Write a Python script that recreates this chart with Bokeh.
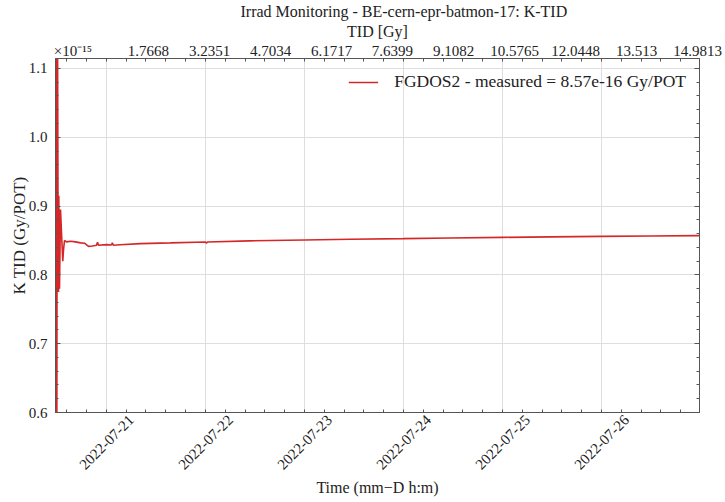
from math import pi

import numpy as np
import pandas as pd
from bokeh.plotting import figure
from bokeh.models import Range1d, LinearAxis, DatetimeAxis, FixedTicker
from bokeh.embed import file_html
from bokeh.resources import INLINE

# K-TID of the FGDOS2 dosimeter (units of 1e-15 Gy/POT)
times = [
    "2022-07-20 11:40", "2022-07-20 11:44", "2022-07-20 11:52", "2022-07-20 11:59",
    "2022-07-20 12:06", "2022-07-20 12:16", "2022-07-20 12:24", "2022-07-20 12:28",
    "2022-07-20 12:38", "2022-07-20 12:53", "2022-07-20 13:07", "2022-07-20 13:26",
    "2022-07-20 13:36", "2022-07-20 13:51", "2022-07-20 14:20", "2022-07-20 15:18",
    "2022-07-20 16:31", "2022-07-20 17:44", "2022-07-20 18:42", "2022-07-20 19:40",
    "2022-07-20 20:38", "2022-07-20 21:36", "2022-07-20 21:51", "2022-07-20 22:05",
    "2022-07-21 00:00", "2022-07-21 01:13", "2022-07-21 01:27", "2022-07-21 01:41",
    "2022-07-21 03:23", "2022-07-21 08:14", "2022-07-21 15:31", "2022-07-22 00:00",
    "2022-07-22 00:15", "2022-07-22 00:30", "2022-07-22 10:40", "2022-07-23 00:00",
    "2022-07-23 11:10", "2022-07-24 00:00", "2022-07-24 11:20", "2022-07-25 00:00",
    "2022-07-25 11:40", "2022-07-26 00:00", "2022-07-26 11:50", "2022-07-26 23:45",
]
k_tid = [
    0.645, 0.45, 1.40, 0.50,
    1.30, 0.918, 0.775, 0.915,
    0.78, 0.895, 0.862, 0.820,
    0.836, 0.850, 0.848, 0.849,
    0.848, 0.8465, 0.846, 0.8415,
    0.842, 0.843, 0.8475, 0.843,
    0.844, 0.8435, 0.8465, 0.843,
    0.8438, 0.8455, 0.8465, 0.8478,
    0.8462, 0.8478, 0.8495, 0.8508,
    0.8518, 0.8527, 0.8536, 0.8545,
    0.8552, 0.856, 0.8566, 0.857,
]
measured = 8.57e-16

day_ticks = ["2022-07-21", "2022-07-22", "2022-07-23", "2022-07-24", "2022-07-25", "2022-07-26"]
tid_ticks = [1.7668, 3.2351, 4.7034, 6.1717, 7.6399, 9.1082, 10.5765, 12.0448, 13.513, 14.9813]
tid_limits = (-0.4717, 15.0294)
y_ticks = [0.6, 0.7, 0.8, 0.9, 1.0, 1.1]
y_limits = (0.6, 1.1145)
y_scale_note = "\u00d710\u207b\u00b9\u2075"

FONT = "Liberation Serif"
TXT = "#222222"
EDGE = "#555555"
GRID = "#dedede"
RED = "#d62728"

FRAME_W = 725 - 55 - 26

t = pd.to_datetime(times)
t_ms = t.asi8 // 10**6
t0, t1 = float(t_ms[0]), float(t_ms[-1])
day_ms = [float(v) for v in pd.to_datetime(day_ticks).asi8 // 10**6]
step = 86400000 / 5
minor_ms = [d + i * step for d in [day_ms[0] - 86400000] + day_ms for i in range(0, 5)]
minor_ms = [m for m in minor_ms if t0 <= m <= t1]
y_minor = [round(v, 2) for v in np.arange(y_limits[0], y_limits[1], 0.02)]

# rotated day labels are right-aligned by bokeh; slide their anchor so each
# label sits centred under its day line
label_shift = 25 * (t1 - t0) / FRAME_W
label_ms = [d + label_shift for d in day_ms]

x_ticker = FixedTicker(ticks=day_ms, minor_ticks=minor_ms)
y_ticker = FixedTicker(ticks=y_ticks, minor_ticks=y_minor)

p = figure(
    width=725, height=502,
    x_axis_type="datetime",
    x_range=Range1d(t0, t1), y_range=Range1d(*y_limits),
    output_backend="svg", toolbar_location=None,
    min_border_left=55, min_border_right=26, min_border_top=58, min_border_bottom=90,
)
p.outline_line_color = EDGE
p.background_fill_color = "white"
p.border_fill_color = "white"

p.title.text = "Irrad Monitoring - BE-cern-epr-batmon-17: K-TID"
p.title.align = "left"
p.title.offset = 185
p.title.standoff = 0
p.title.text_font = FONT
p.title.text_font_size = "16px"
p.title.text_font_style = "normal"
p.title.text_color = TXT


def style_ticks(ax):
    ax.axis_line_color = EDGE
    ax.major_tick_line_color = EDGE
    ax.minor_tick_line_color = EDGE
    ax.major_tick_in = 5
    ax.major_tick_out = 0
    ax.minor_tick_in = 3
    ax.minor_tick_out = 0


def style_labels(ax, size="15px"):
    ax.major_label_text_font = FONT
    ax.major_label_text_font_size = size
    ax.major_label_text_color = TXT
    ax.axis_label_text_font = FONT
    ax.axis_label_text_font_size = "16px"
    ax.axis_label_text_font_style = "normal"
    ax.axis_label_text_color = TXT


# bottom: day labels, with tick marks every fifth of a day
xa = p.xaxis[0]
xa.ticker = FixedTicker(ticks=label_ms, minor_ticks=minor_ms)
style_ticks(xa)
style_labels(xa)
xa.major_tick_in = 0
xa.minor_tick_in = 3
xa.major_label_overrides = {ms: d for ms, d in zip(label_ms, day_ticks)}
xa.major_label_orientation = pi / 4
xa.major_label_standoff = 5
xa.axis_label = "Time (mm\u2212D h:m)"
xa.axis_label_standoff = 2

# left: K values
ya = p.yaxis[0]
ya.ticker = y_ticker
style_ticks(ya)
style_labels(ya)
ya.major_label_overrides = {v: f"{v:.1f}" for v in y_ticks}
ya.major_label_standoff = 8
ya.axis_label = "K TID (Gy/POT)"
ya.axis_label_text_font_size = "17px"
ya.axis_label_standoff = -3

# right: mirrored y ticks
ra = LinearAxis(ticker=y_ticker)
style_ticks(ra)
ra.major_label_overrides = {v: "" for v in y_ticks}
ra.major_label_standoff = 0
p.add_layout(ra, "right")

# top: mirrored day ticks
ta = DatetimeAxis(ticker=FixedTicker(ticks=[], minor_ticks=minor_ms))
style_ticks(ta)
ta.major_label_standoff = 0
p.add_layout(ta, "above")

# top: accumulated TID scale, with the y multiplier at its left end
p.extra_x_ranges = {"tid": Range1d(*tid_limits)}
note_pos = tid_limits[0] + 0.027 * (tid_limits[1] - tid_limits[0])
tid_ax = LinearAxis(x_range_name="tid", ticker=FixedTicker(ticks=[note_pos] + tid_ticks, minor_ticks=[]))
tid_ax.major_label_overrides = {note_pos: y_scale_note, **{v: str(v) for v in tid_ticks}}
tid_ax.axis_line_color = None
tid_ax.major_tick_line_color = None
tid_ax.minor_tick_line_color = None
tid_ax.major_tick_in = 0
tid_ax.major_tick_out = 0
style_labels(tid_ax)
tid_ax.major_label_standoff = 0
tid_ax.axis_label = "TID [Gy]"
tid_ax.axis_label_standoff = 0
p.add_layout(tid_ax, "above")

p.xgrid.ticker = x_ticker
p.ygrid.ticker = y_ticker
for g in (p.xgrid, p.ygrid):
    g.grid_line_color = GRID
    g.grid_line_width = 1

label = f"FGDOS2 - measured = {measured:.2e} Gy/POT"
p.line(t, k_tid, color=RED, line_width=1.6, legend_label=label)

lg = p.legend[0]
lg.location = "top_right"
lg.border_line_color = None
lg.background_fill_alpha = 0
lg.margin = 13
lg.padding = 5
lg.glyph_width = 30
lg.label_standoff = 16
lg.label_text_font = FONT
lg.label_text_font_size = "17.5px"
lg.label_text_color = TXT

open("out.html", "w").write(file_html(p, INLINE))
